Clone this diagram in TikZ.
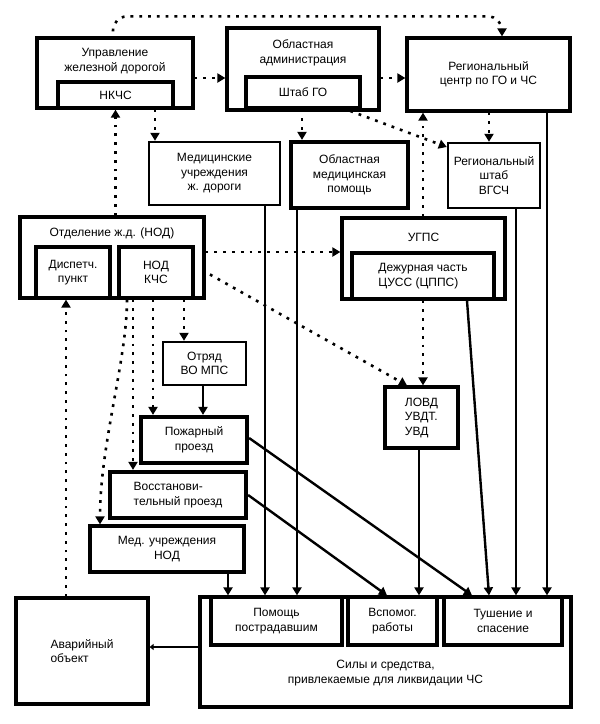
\documentclass[tikz,border=0pt]{standalone}
\usepackage{fontspec}
\setmainfont{Liberation Sans}
\usetikzlibrary{arrows.meta}

\begin{document}
\begin{tikzpicture}[x=1pt,y=-1pt,
  font=\fontsize{12}{14.5}\selectfont,
  box/.style={draw,line width=3.2pt,align=center,inner sep=0pt},
  thinbox/.style={box,line width=2.4pt},
  thickbox/.style={box,line width=4.2pt},
  ttl/.style={align=center},
  dotarr/.style={line width=2.6pt,dash pattern=on 2.8pt off 6pt,-{Triangle[length=8pt,width=9pt]}},
  solarr/.style={line width=2.4pt,-{Triangle[length=8pt,width=9pt]}}]
  \useasboundingbox (0,0) rectangle (600,724);
  % upper row
  \node[box,minimum width=156pt,minimum height=70pt] (upr) at (115,73) {};
  \node[ttl] (upr-t) at (115,61) {Управление\\железной дорогой};
  \node[box,minimum width=115pt,minimum height=26pt] (nkchs) at (115.5,95) {НКЧС};
  \node[box,minimum width=152pt,minimum height=82pt] (adm) at (303,69) {};
  \node[ttl] (adm-t) at (303,53) {Областная\\администрация};
  \node[box,minimum width=114pt,minimum height=31pt] (shtab) at (303,92.5) {Штаб ГО};
  \node[box,minimum width=163pt,minimum height=73pt] (rcgo) at (488.5,74.5) {Региональный\\центр по ГО и ЧС};
  % second row
  \node[thinbox,minimum width=131pt,minimum height=63pt] (medjd) at (214.5,173.5) {Медицинские\\учреждения\\ж. дороги};
  \node[thickbox,minimum width=117pt,minimum height=66pt] (oblmed) at (349.5,175) {Областная\\медицинская\\помощь};
  \node[thinbox,minimum width=92pt,minimum height=65pt] (vgsch) at (494,175.5) {Региональный\\штаб\\ВГСЧ};
  % third row
  \node[box,minimum width=184pt,minimum height=81pt] (nod) at (112,257.5) {};
  \node[ttl] (nod-t) at (112,233) {Отделение ж.д. (НОД)};
  \node[box,minimum width=74pt,minimum height=51pt] (disp) at (73,272.5) {Диспетч.\\пункт};
  \node[box,minimum width=74pt,minimum height=51pt] (nodkchs) at (156,272.5) {НОД\\КЧС};
  \node[box,minimum width=163pt,minimum height=81pt] (ugps) at (423.5,258.5) {};
  \node[ttl] (ugps-t) at (423.5,237) {УГПС};
  \node[box,minimum width=142pt,minimum height=46pt,align=left] (dezh) at (423,276) {Дежурная часть\\ЦУСС (ЦППС)};
  % forces
  \node[thinbox,minimum width=83pt,minimum height=43pt] (otryad) at (204.5,363.5) {Отряд\\ВО МПС};
  \node[box,minimum width=73pt,minimum height=61pt,align=left] (lovd) at (421.5,417.5) {ЛОВД\\УВДТ.\\УВД};
  \node[thickbox,minimum width=106pt,minimum height=46pt] (pozh) at (194,440) {Пожарный\\проезд};
  \node[thickbox,minimum width=136pt,minimum height=46pt,align=left] (vosst) at (178,495) {Восстанови-\\тельный проезд};
  \node[box,minimum width=154pt,minimum height=46pt] (mednod) at (167,549) {Мед. учреждения\\НОД};
  % bottom
  \node[box,minimum width=132pt,minimum height=106pt,align=left] (avar) at (82,651) {Аварийный\\объект};
  \node[thickbox,minimum width=371pt,minimum height=110pt] (sily) at (385.5,652) {};
  \node[ttl] (sily-t) at (385.5,673) {Силы и средства,\\привлекаемые для ликвидации ЧС};
  \node[box,minimum width=131pt,minimum height=48pt] (pomosh) at (276.5,621) {Помощь\\пострадавшим};
  \node[box,minimum width=89pt,minimum height=48pt] (vspom) at (392.5,621) {Вспомог.\\работы};
  \node[box,minimum width=118pt,minimum height=48pt] (tush) at (503,621) {Тушение и\\спасение};
  % dotted links
  \draw[dotarr,rounded corners=14pt,shorten <=5pt] ([xshift=-2pt]upr.north) -- ++(0,-20) -| ([xshift=13.5pt]rcgo.north);
  \draw[dotarr] (upr.east |- 0,78) -- (adm.west |- 0,78);
  \draw[dotarr] (adm.east |- 0,78) -- (rcgo.west |- 0,78);
  \draw[dotarr] (nkchs.south -| 155,0) -- (medjd.north -| 155,0);
  \draw[dotarr] (nkchs.south |- nod.north) -- (nkchs.south);
  \draw[dotarr] (shtab.south -| 302,0) -- (oblmed.north -| 302,0);
  \draw[dotarr,shorten <=4pt] ([xshift=-15pt]shtab.south east) -- (vgsch.west |- 0,147);
  \draw[dotarr] (ugps.north -| 423,0) -- (rcgo.south -| 423,0);
  \draw[dotarr] (rcgo.south -| 489,0) -- (vgsch.north -| 489,0);
  \draw[dotarr] (nod.east |- 0,252) -- (ugps.west |- 0,252);
  \draw[dotarr,shorten <=5pt] (nod.east |- 0,272) -- (lovd.north -| 407,0);
  \draw[dotarr] (dezh.south -| 423,0) -- (lovd.north -| 423,0);
  \draw[dotarr] (avar.north -| 66,0) -- (disp.south -| 66,0);
  \draw[dotarr] (nodkchs.south -| 184,0) -- (otryad.north -| 184,0);
  \draw[dotarr] (nodkchs.south -| 153,0) -- (pozh.north -| 153,0);
  \draw[dotarr] (nodkchs.south -| 133,0) -- (vosst.north -| 133,0);
  \draw[dotarr] (nodkchs.south -| 127,0) .. controls +(0,60) and +(0,-80) .. (mednod.north -| 100,0);
  % solid links
  \draw[solarr] (otryad.south -| 203,0) -- (pozh.north -| 203,0);
  \draw[solarr] (medjd.south -| 265,0) -- (pomosh.north -| 265,0);
  \draw[solarr] (oblmed.south -| 297,0) -- (pomosh.north -| 297,0);
  \draw[solarr] (mednod.south -| 228,0) -- (pomosh.north -| 228,0);
  \draw[solarr] (pozh.east |- 0,438) -- (tush.north -| 472,0);
  \draw[solarr] (vosst.east |- 0,495) -- (vspom.north -| 387,0);
  \draw[solarr] (lovd.south -| 419,0) -- (vspom.north -| 419,0);
  \draw[solarr] (dezh.south -| 467,0) -- (tush.north -| 489,0);
  \draw[solarr] (vgsch.south -| 516,0) -- (tush.north -| 516,0);
  \draw[solarr] (rcgo.south -| 547,0) -- (tush.north -| 547,0);
  \draw[solarr,-{Triangle[length=4pt,width=6pt]}] (sily.west |- 0,647) -- (avar.east |- 0,647);
\end{tikzpicture}
\end{document}
